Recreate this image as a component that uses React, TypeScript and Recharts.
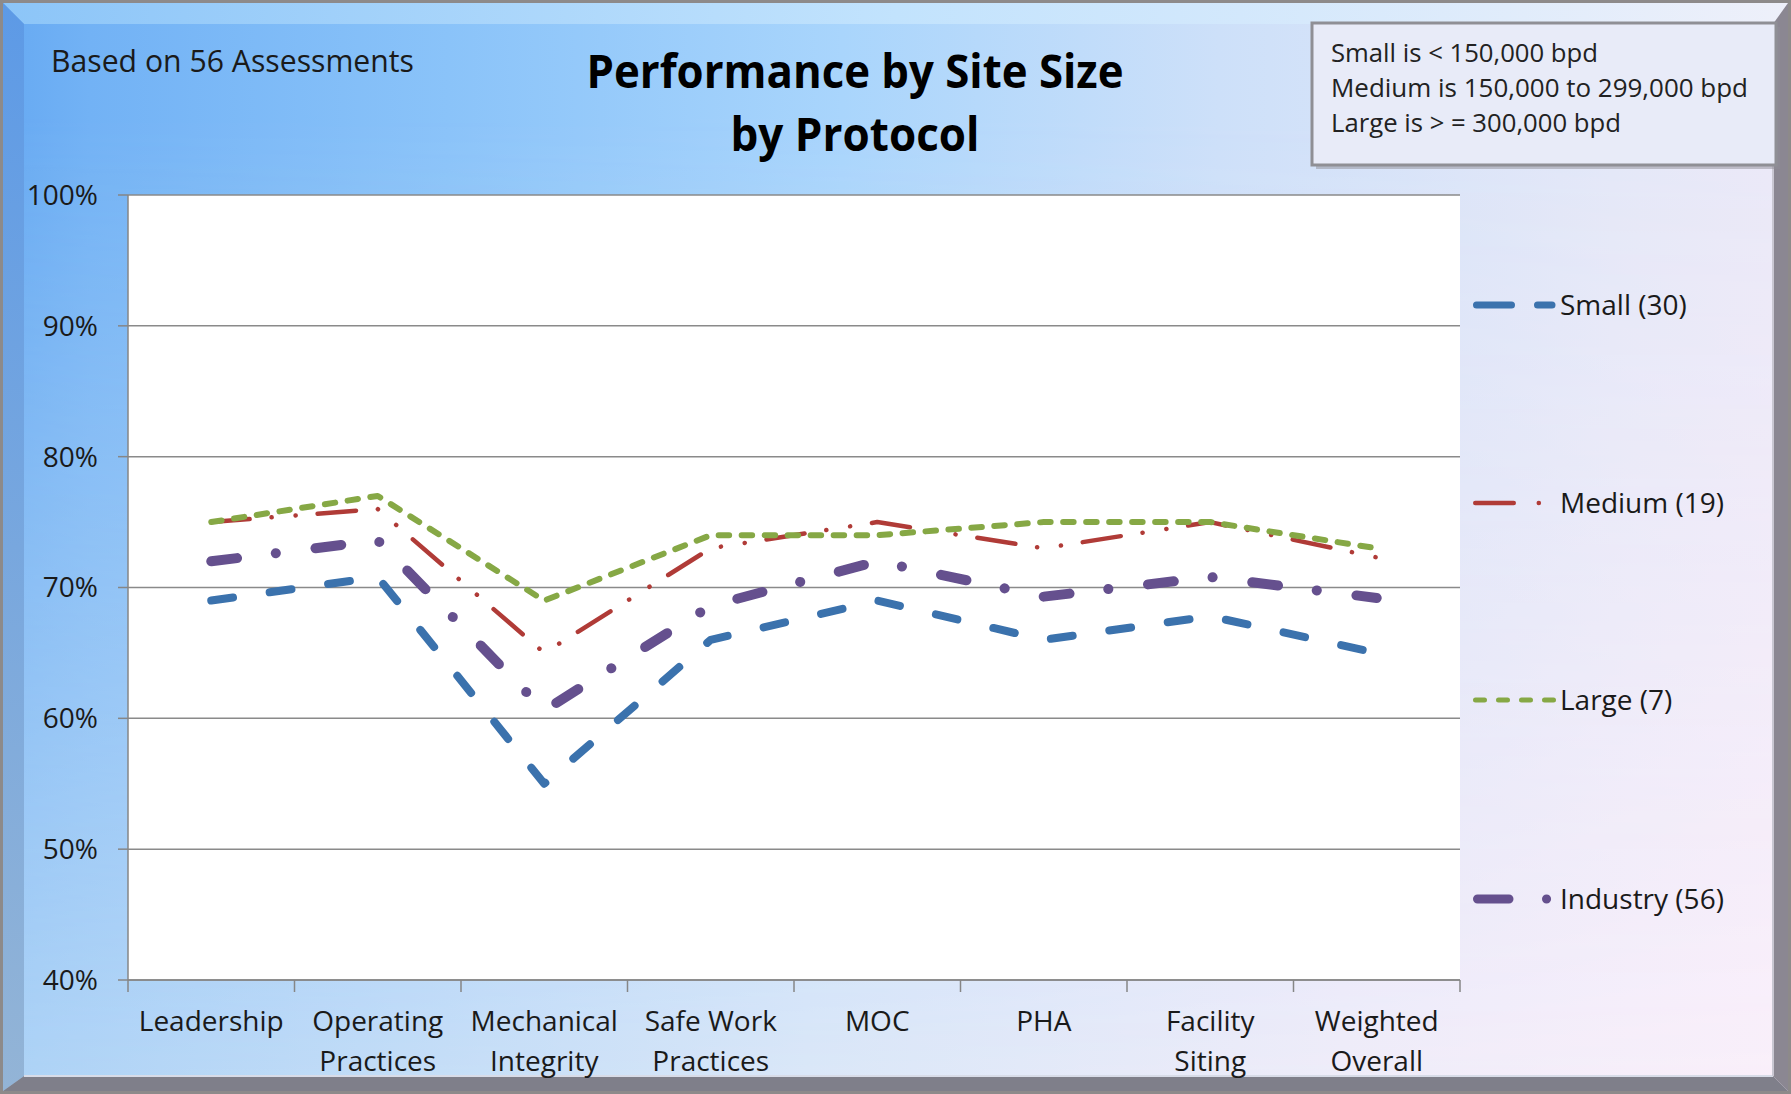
import React from 'react';
import { LineChart, Line, XAxis, YAxis, CartesianGrid, Legend } from 'recharts';

// ---------- data ----------
const categories = [
  'Leadership',
  'Operating\nPractices',
  'Mechanical\nIntegrity',
  'Safe Work\nPractices',
  'MOC',
  'PHA',
  'Facility\nSiting',
  'Weighted\nOverall',
];
const small = [69, 70.8, 55, 66, 69, 66, 67.8, 65];
const medium = [75, 76, 65, 73, 75, 73, 75, 72.3];
const large = [75, 77, 69, 74, 74, 75, 75, 73];
const industry = [72, 73.6, 60.6, 68.6, 72, 69.3, 70.8, 69.2];
const yTicks = [40, 50, 60, 70, 80, 90, 100];
const seriesNames = ['Small (30)', 'Medium (19)', 'Large (7)', 'Industry (56)'];
const titleLines = ['Performance by Site Size', 'by Protocol'];
const subtitle = 'Based on 56 Assessments';
const infoLines = ['Small is < 150,000 bpd', 'Medium is 150,000 to 299,000 bpd', 'Large is > = 300,000 bpd'];

const data = categories.map((c, i) => ({
  category: c,
  small: small[i],
  medium: medium[i],
  large: large[i],
  industry: industry[i],
}));

// ---------- layout / style ----------
const W = 1791;
const H = 1094;
const PLOT_L = 128;
const PLOT_R = 1460;
const PLOT_T = 195;
const PLOT_B = 980;
const Y_AXIS_W = 110;
const X_AXIS_H = 100;
const FONT = '"Open Sans", "DejaVu Sans", sans-serif';
const TEXT = '#1a1a1a';
const AXIS = '#868686';

const STYLES = [
  { key: 'small', name: seriesNames[0], color: '#3b72ad', width: 8, dash: '22 37', lw: 7, ld: '35 26', lx2: 92 },
  { key: 'medium', name: seriesNames[1], color: '#b03b37', width: 4.5, dash: '38.5 22 0.1 24 0.1 22', lw: 4.5, ld: '38.5 25 0.1 100', lx2: 82 },
  { key: 'large', name: seriesNames[2], color: '#86a845', width: 6, dash: '10.5 12.5', lw: 5, ld: '9 14', lx2: 93.5 },
  { key: 'industry', name: seriesNames[3], color: '#65508e', width: 10, dash: '26 39 0.1 39.9', lw: 9, ld: '31.5 37.5 0.1 100', lx2: 90 },
];
const LEGEND_LEFT = 1460;
const LEGEND_TOP = 250;
const LEGEND_Y = [305, 503, 700, 899];

function CategoryTick(props: any) {
  const { x, y, payload, index, visibleTicksCount } = props;
  const half = payload && payload.offset ? payload.offset : (PLOT_R - PLOT_L) / categories.length / 2;
  const lines = String(payload.value).split('\n');
  return (
    <g>
      <line x1={x - half} x2={x - half} y1={y} y2={y + 12} stroke={AXIS} strokeWidth={1.5} />
      {index === visibleTicksCount - 1 && (
        <line x1={x + half} x2={x + half} y1={y} y2={y + 12} stroke={AXIS} strokeWidth={1.5} />
      )}
      {lines.map((l, i) => (
        <text key={i} x={x} y={y + 51 + i * 40} textAnchor="middle" fontFamily={FONT} fontSize={28} fill={TEXT}>
          {l}
        </text>
      ))}
    </g>
  );
}

function LegendContent() {
  return (
    <svg width={331} height={720} style={{ display: 'block', overflow: 'visible' }}>
      {STYLES.map((s, i) => {
        const cy = LEGEND_Y[i] - LEGEND_TOP;
        return (
          <g key={s.key}>
            <line
              x1={13 + s.lw / 2}
              x2={s.lx2}
              y1={cy}
              y2={cy}
              stroke={s.color}
              strokeWidth={s.lw}
              strokeDasharray={s.ld}
              strokeLinecap="round"
            />
            <text x={100} y={cy + 10} fontFamily={FONT} fontSize={28} fill={TEXT}>
              {s.name}
            </text>
          </g>
        );
      })}
    </svg>
  );
}

function Background() {
  return (
    <svg width={W} height={H} style={{ position: 'absolute', left: 0, top: 0 }}>
      <defs>
        <linearGradient id="bgTop" x1="0" y1="0" x2="1" y2="0">
          <stop offset="0" stopColor="#66a9f2" />
          <stop offset="0.05" stopColor="#72b2f5" />
          <stop offset="0.25" stopColor="#8ac3f9" />
          <stop offset="0.47" stopColor="#a9d5fc" />
          <stop offset="0.68" stopColor="#cde0f9" />
          <stop offset="0.9" stopColor="#e4e8f8" />
          <stop offset="1" stopColor="#ebe9f8" />
        </linearGradient>
        <linearGradient id="bgBot" x1="0" y1="0" x2="1" y2="0">
          <stop offset="0" stopColor="#aed3f6" />
          <stop offset="0.45" stopColor="#dbe7f8" />
          <stop offset="0.75" stopColor="#efecf9" />
          <stop offset="1" stopColor="#faeffa" />
        </linearGradient>
        <linearGradient id="vFade" x1="0" y1="0" x2="0" y2="1">
          <stop offset="0.1" stopColor="#fff" stopOpacity="0" />
          <stop offset="1" stopColor="#fff" stopOpacity="1" />
        </linearGradient>
        <mask id="fadeMask">
          <rect x={0} y={0} width={W} height={H} fill="url(#vFade)" />
        </mask>
        <linearGradient id="topBevel" x1="0" y1="0" x2="1" y2="0">
          <stop offset="0" stopColor="#8cc5f8" />
          <stop offset="0.5" stopColor="#c2e3fd" />
          <stop offset="1" stopColor="#eef0fa" />
        </linearGradient>
        <linearGradient id="leftBevel" x1="0" y1="0" x2="0" y2="1">
          <stop offset="0" stopColor="#5d9ae6" />
          <stop offset="1" stopColor="#93b4d6" />
        </linearGradient>
      </defs>
      <rect x={0} y={0} width={W} height={H} fill="url(#bgTop)" />
      <rect x={0} y={0} width={W} height={H} fill="url(#bgBot)" mask="url(#fadeMask)" />
      {/* bevel frame */}
      <polygon points={`3,3 ${W - 3},3 ${W - 18},24 24,24`} fill="url(#topBevel)" />
      <polygon points={`3,3 24,24 24,${H - 18} 3,${H - 3}`} fill="url(#leftBevel)" />
      <polygon points={`${W - 3},3 ${W - 18},24 ${W - 18},${H - 18} ${W - 3},${H - 3}`} fill="#8b8792" />
      <polygon points={`3,${H - 3} 24,${H - 18} ${W - 18},${H - 18} ${W - 3},${H - 3}`} fill="#7f7f8a" />
      <line x1={24} y1={H - 18} x2={W - 18} y2={H - 18} stroke="#d8dce8" strokeWidth={2} />
      <line x1={W - 18} y1={24} x2={W - 18} y2={H - 18} stroke="#c9c7d2" strokeWidth={2} />
      <rect x={1.5} y={1.5} width={W - 3} height={H - 3} fill="none" stroke="#8d8a8a" strokeWidth={3} />

      {/* subtitle */}
      <text x={51} y={72} fontFamily={FONT} fontSize={31} fill={TEXT} textLength={363} lengthAdjust="spacingAndGlyphs">
        {subtitle}
      </text>
      {/* title */}
      <text x={855} y={88} textAnchor="middle" fontFamily={FONT} fontWeight={700} fontSize={47} fill="#000" textLength={537} lengthAdjust="spacingAndGlyphs">
        {titleLines[0]}
      </text>
      <text x={855} y={151} textAnchor="middle" fontFamily={FONT} fontWeight={700} fontSize={47} fill="#000" textLength={249} lengthAdjust="spacingAndGlyphs">
        {titleLines[1]}
      </text>
      {/* info box */}
      <rect x={1316} y={27} width={464} height={142} fill="#8f8d96" opacity={0.5} />
      <rect x={1312} y={23} width={464} height={142} fill="#e8ebf8" stroke="#8f8f95" strokeWidth={3} />
      {infoLines.map((l, i) => (
        <text
          key={i}
          x={1331}
          y={62 + i * 35}
          fontFamily={FONT}
          fontSize={25}
          fill="#222"
          textLength={[267, 417, 290][i]}
          lengthAdjust="spacingAndGlyphs"
        >
          {l}
        </text>
      ))}
    </svg>
  );
}

export default function App() {
  return (
    <div style={{ position: 'absolute', left: 0, top: 0, width: W, height: H, overflow: 'hidden' }}>
      <Background />
      <div style={{ position: 'absolute', left: 0, top: 0 }}>
        <LineChart
          width={W}
          height={H}
          data={data}
          margin={{ top: PLOT_T, right: W - PLOT_R, bottom: H - PLOT_B - X_AXIS_H, left: PLOT_L - Y_AXIS_W }}
        >
          <CartesianGrid vertical={false} stroke="#8a8a8a" strokeWidth={1.5} fill="#ffffff" fillOpacity={1} />
          <XAxis
            dataKey="category"
            scale="band"
            height={X_AXIS_H}
            interval={0}
            tickLine={false}
            tickSize={0}
            tickMargin={0}
            axisLine={{ stroke: AXIS, strokeWidth: 1.5 }}
            tick={<CategoryTick />}
          />
          <YAxis
            width={Y_AXIS_W}
            domain={[40, 100]}
            ticks={yTicks}
            interval={0}
            tickFormatter={(v: number) => `${v}%`}
            tickSize={10}
            tickMargin={20}
            tickLine={{ stroke: AXIS, strokeWidth: 1.5 }}
            axisLine={{ stroke: AXIS, strokeWidth: 1.5 }}
            tick={{ fontFamily: FONT, fontSize: 28, fill: TEXT }}
          />
          <Legend
            layout="vertical"
            align="center"
            verticalAlign="middle"
            width={331}
            height={720}
            wrapperStyle={{ position: 'absolute', left: LEGEND_LEFT, top: LEGEND_TOP, width: 331, height: 720 }}
            content={<LegendContent />}
          />
          {STYLES.map((s) => (
            <Line
              key={s.key}
              type="linear"
              dataKey={s.key}
              name={s.name}
              stroke={s.color}
              strokeWidth={s.width}
              strokeDasharray={s.dash}
              strokeLinecap="round"
              strokeLinejoin="round"
              dot={false}
              activeDot={false}
              isAnimationActive={false}
            />
          ))}
        </LineChart>
      </div>
    </div>
  );
}
